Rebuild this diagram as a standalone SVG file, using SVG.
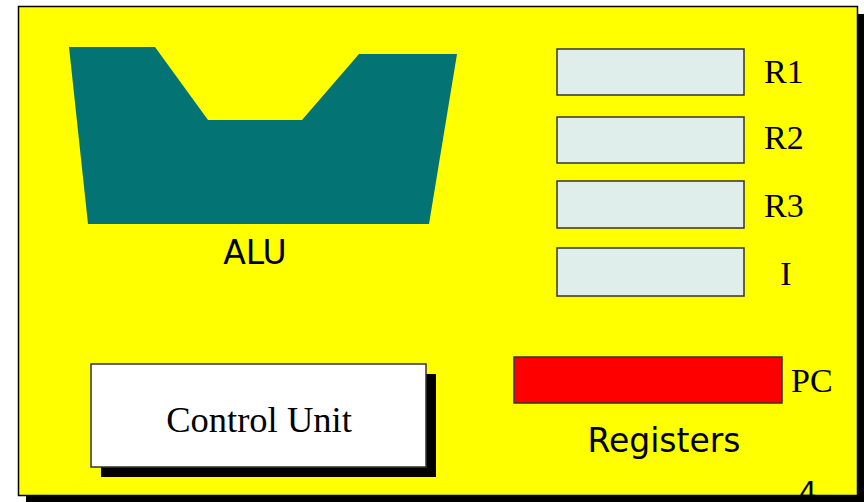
<svg xmlns="http://www.w3.org/2000/svg" width="864" height="502" viewBox="0 0 864 502">
<style>
.reg{fill:#dfeeea;stroke:#333;stroke-width:1.5}
.serif{font-family:"Liberation Serif","Times New Roman",serif;fill:#000}
.sans{font-family:"DejaVu Sans","Open Sans",sans-serif;fill:#000}
</style>
<rect width="864" height="502" fill="#fff"/>
<g id="frame">
<rect x="26" y="14" width="840" height="490" fill="#000"/>
<rect x="18.5" y="6.5" width="839" height="489" fill="#ffff00" stroke="#000" stroke-width="1.5"/>
</g>
<g id="alu">
<polygon points="69,47 155,47 208,120 302,120 359,54 457,54 429,224 88,224" fill="#037374"/>
<text class="sans" x="255" y="264" font-size="33" text-anchor="middle">ALU</text>
</g>
<g id="r1"><rect class="reg" x="557" y="49" width="187" height="46"/><text class="serif" x="764" y="83" font-size="34">R1</text></g>
<g id="r2"><rect class="reg" x="557" y="117" width="187" height="46"/><text class="serif" x="764" y="149" font-size="34">R2</text></g>
<g id="r3"><rect class="reg" x="557" y="181" width="187" height="47"/><text class="serif" x="764" y="217" font-size="34">R3</text></g>
<g id="ireg"><rect class="reg" x="557" y="248" width="187" height="48"/><text class="serif" x="786" y="285" font-size="34" text-anchor="middle">I</text></g>
<g id="pc"><rect x="514" y="357" width="268" height="46" fill="#ff0000" stroke="#333" stroke-width="1.5"/><text class="serif" x="791" y="392" font-size="34">PC</text></g>
<g id="registers-label"><text class="sans" x="664" y="452" font-size="33" text-anchor="middle">Registers</text></g>
<g id="control-unit">
<rect x="101" y="374" width="335" height="103" fill="#000"/>
<rect x="91" y="364" width="335" height="103" fill="#fff" stroke="#333" stroke-width="1.5"/>
<text class="serif" x="259" y="432" font-size="36.5" text-anchor="middle">Control Unit</text>
</g>
<g id="page-number"><text class="sans" x="808" y="502" font-size="28" text-anchor="middle">4</text></g>
<g id="connectors"/>
</svg>
